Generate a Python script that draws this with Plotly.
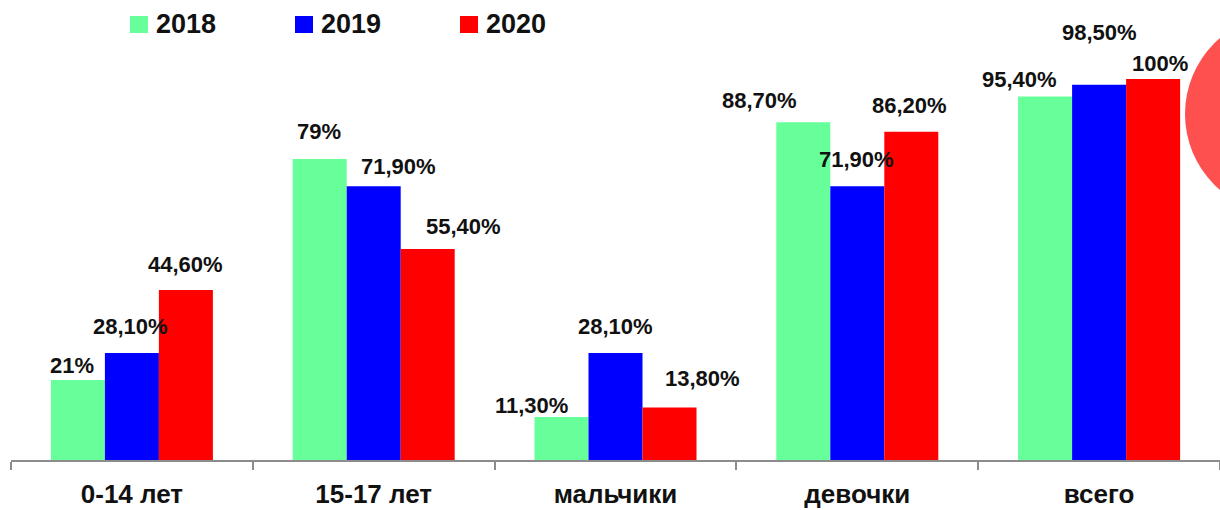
import plotly.graph_objects as go

categories = ["0-14 лет", "15-17 лет", "мальчики", "девочки", "всего"]
series_names = ["2018", "2019", "2020"]
values_2018 = [21.0, 79.0, 11.3, 88.7, 95.4]
values_2019 = [28.1, 71.9, 28.1, 71.9, 98.5]
values_2020 = [44.6, 55.4, 13.8, 86.2, 100.0]
labels_2018 = ["21%", "79%", "11,30%", "88,70%", "95,40%"]
labels_2019 = ["28,10%", "71,90%", "28,10%", "71,90%", "98,50%"]
labels_2020 = ["44,60%", "55,40%", "13,80%", "86,20%", "100%"]

colors = ["#66FF99", "#0000FF", "#FF0000"]
FONT = "Liberation Sans, Arial, sans-serif"

# label nudges (pixels): horizontal shift and gap above bar top
nudge_x = [[-6, -1, -30, -44, -26], [-1, 25, 0, -1, 0], [0, 36, 33, -2, 7]]
nudge_gap = [[5, 18, 2, 12, 8], [17, 10, 17, 17, 43], [16, 13, 19, 17, 6]]

W, H = 1220, 510
ML, MR, MT, MB = 11, 0, 41, 50
BARGAP = 0.33
YMAX = 110

all_vals = [values_2018, values_2019, values_2020]
all_labels = [labels_2018, labels_2019, labels_2020]

fig = go.Figure()
for name, vals, col in zip(series_names, all_vals, colors):
    fig.add_trace(go.Bar(name=name, x=categories, y=vals, marker=dict(color=col, line=dict(width=0)),
                         showlegend=False, hoverinfo="skip"))

slot_px = (W - ML - MR) / len(categories)
bar_px = slot_px * (1 - BARGAP) / len(series_names)

annotations = []
for i, (vals, labs) in enumerate(zip(all_vals, all_labels)):
    for j, (c, v, t) in enumerate(zip(categories, vals, labs)):
        annotations.append(dict(
            x=c, y=v, xref="x", yref="y", text=t, showarrow=False,
            xanchor="center", yanchor="bottom",
            xshift=(i - 1) * bar_px + nudge_x[i][j], yshift=nudge_gap[i][j] - 5,
            font=dict(family=FONT, size=22, color="#111111", weight="bold")))

# manual legend at top
legend_x = [130, 295, 460]
shapes = []
for lx, name, col in zip(legend_x, series_names, colors):
    shapes.append(dict(type="rect", xref="paper", yref="paper",
                       xsizemode="pixel", ysizemode="pixel",
                       xanchor=0, yanchor=1,
                       x0=lx - ML, x1=lx - ML + 18,
                       y0=MT - 33, y1=MT - 16,
                       fillcolor=col, line=dict(width=0)))
    annotations.append(dict(xref="paper", yref="paper", x=(lx + 24 - ML) / (W - ML - MR),
                            y=1 + (MT - 24) / (H - MT - MB), xanchor="left", yanchor="middle",
                            text=name, showarrow=False,
                            font=dict(family=FONT, size=27, color="#111111", weight="bold")))

# decorative circle at right edge
shapes.append(dict(type="circle", xref="paper", yref="paper",
                   xsizemode="pixel", ysizemode="pixel", xanchor=1,
                   yanchor=(H - MB - 114) / (H - MT - MB),
                   x0=-35, x1=165, y0=-100, y1=100,
                   fillcolor="#FF5050", line=dict(width=0), layer="above"))

fig.update_layout(
    width=W, height=H,
    margin=dict(l=ML, r=MR, t=MT, b=MB, pad=0),
    paper_bgcolor="white", plot_bgcolor="white",
    barmode="group", bargap=BARGAP, bargroupgap=0,
    showlegend=False,
    annotations=annotations, shapes=shapes,
    xaxis=dict(type="category", showline=True, linecolor="#8C8C8C", linewidth=2,
               ticks="outside", tickson="boundaries", ticklen=8, tickwidth=2, tickcolor="#8C8C8C",
               showgrid=False, zeroline=False, automargin=False, ticklabelstandoff=10,
               tickfont=dict(family=FONT, size=26, color="#111111", weight="bold")),
    yaxis=dict(range=[0, YMAX], visible=False, showgrid=False, zeroline=False),
)

fig.write_html("out.html", config={"displayModeBar": False},
               post_script="document.body.style.margin='0px';document.body.style.overflow='hidden';")
